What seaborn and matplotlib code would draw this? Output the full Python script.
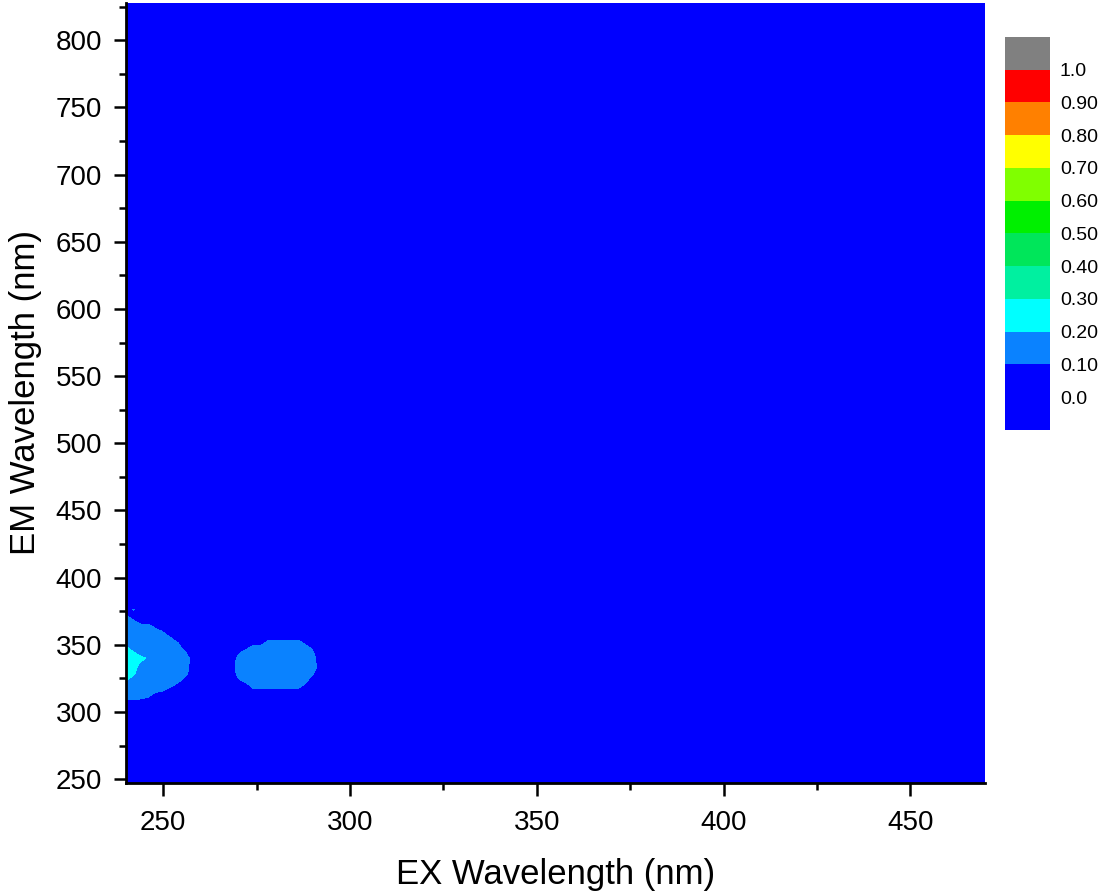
import numpy as np
import pandas as pd
import matplotlib
matplotlib.use("Agg")
import matplotlib.pyplot as plt
from matplotlib.ticker import MultipleLocator
import seaborn as sns

# ---------------- data ----------------
# Full measurement grid (nm)
ex_grid = np.arange(240, 472, 2)
em_grid = np.arange(244, 832, 4)

# Peak 1 (left edge), normalised intensity in hundredths
blob1_ex = [240, 242, 244, 246, 248, 250, 252, 254, 256, 258]
blob1_em = [304, 308, 312, 316, 320, 324, 328, 332, 336, 340, 344,
            348, 352, 356, 360, 364, 368, 372, 376, 380, 384, 388]
blob1 = [
    [0, 0, 0, 0, 0, 0, 0, 0, 0, 0],            # 304
    [8, 8, 6, 0, 0, 0, 0, 0, 0, 0],            # 308
    [15, 15, 15, 13, 0, 0, 0, 0, 0, 0],        # 312
    [15, 15, 15, 15, 15, 11, 0, 0, 0, 0],      # 316
    [17, 15, 15, 15, 15, 15, 15, 5, 0, 0],     # 320
    [21, 16, 15, 15, 15, 15, 15, 15, 5, 0],    # 324
    [23, 21, 16, 15, 15, 15, 15, 15, 12, 0],   # 328
    [25, 22, 17, 15, 15, 15, 15, 15, 17, 0],   # 332
    [26, 23, 19, 15, 15, 15, 15, 15, 18, 0],   # 336
    [27, 25, 22, 19, 15, 15, 15, 15, 19, 0],   # 340
    [24, 21, 16, 15, 15, 15, 15, 15, 11, 0],   # 344
    [21, 16, 15, 15, 15, 15, 15, 17, 0, 0],    # 348
    [15, 15, 15, 15, 15, 15, 15, 9, 0, 0],     # 352
    [15, 15, 15, 15, 15, 15, 9, 0, 0, 0],      # 356
    [15, 15, 15, 15, 15, 9, 0, 0, 0, 0],       # 360
    [15, 15, 15, 15, 5, 0, 0, 0, 0, 0],        # 364
    [12, 11, 0, 0, 0, 0, 0, 0, 0, 0],          # 368
    [11, 0, 0, 0, 0, 0, 0, 0, 0, 0],           # 372
    [0, 11, 0, 0, 0, 0, 0, 0, 0, 0],           # 376
    [0, 0, 0, 0, 0, 0, 0, 0, 0, 0],            # 380
    [11, 0, 0, 0, 0, 0, 0, 0, 0, 0],           # 384
    [0, 0, 0, 0, 0, 0, 0, 0, 0, 0],            # 388
]

# Peak 2 (EX ~280 nm), normalised intensity in hundredths
blob2_ex = [266, 268, 270, 272, 274, 276, 278, 280, 282, 284, 286, 288, 290, 292, 294]
blob2_em = [312, 316, 320, 324, 328, 332, 336, 340, 344, 348, 352, 356]
blob2 = [
    [0, 0, 0, 0, 0, 0, 0, 0, 0, 0, 0, 0, 0, 0, 0],              # 312
    [0, 0, 0, 0, 8, 8, 8, 8, 8, 8, 8, 0, 0, 0, 0],              # 316
    [0, 0, 0, 5, 15, 15, 15, 15, 15, 15, 15, 8, 0, 0, 0],       # 320
    [0, 0, 8, 15, 15, 15, 15, 15, 15, 15, 15, 17, 0, 0, 0],     # 324
    [0, 0, 13, 15, 15, 15, 15, 15, 15, 15, 15, 15, 11, 0, 0],   # 328
    [0, 0, 15, 15, 15, 15, 15, 15, 15, 15, 15, 15, 18, 0, 0],   # 332
    [0, 0, 15, 15, 15, 15, 15, 15, 15, 15, 15, 15, 18, 0, 0],   # 336
    [0, 0, 13, 15, 15, 15, 15, 15, 15, 15, 15, 15, 17, 0, 0],   # 340
    [0, 0, 8, 15, 15, 15, 15, 15, 15, 15, 15, 15, 12, 0, 0],    # 344
    [0, 0, 0, 5, 15, 15, 15, 15, 15, 15, 15, 15, 7, 0, 0],      # 348
    [0, 0, 0, 0, 0, 0, 13, 15, 16, 16, 15, 5, 0, 0, 0],         # 352
    [0, 0, 0, 0, 0, 0, 0, 0, 0, 0, 0, 0, 0, 0, 0],              # 356
]

level_values = [-0.1, 0.0, 0.1, 0.2, 0.3, 0.4, 0.5, 0.6, 0.7, 0.8, 0.9, 1.0, 1.1]
level_colors = ["#0000FF", "#0000FF", "#0A82FF", "#00FFFF", "#00F0A0",
                "#00E65A", "#00F000", "#80FF00", "#FFFF00", "#FF8000",
                "#FF0000", "#808080"]
cbar_ticks = [0.0, 0.1, 0.2, 0.3, 0.4, 0.5, 0.6, 0.7, 0.8, 0.9, 1.0]
cbar_labels = ["0.0", "0.10", "0.20", "0.30", "0.40", "0.50",
               "0.60", "0.70", "0.80", "0.90", "1.0"]
x_label = "EX Wavelength (nm)"
y_label = "EM Wavelength (nm)"

# ---------------- build field ----------------
field = pd.DataFrame(0.0, index=em_grid, columns=ex_grid)
field.loc[blob1_em, blob1_ex] = np.array(blob1, dtype=float) / 100.0
field.loc[blob2_em, blob2_ex] = np.array(blob2, dtype=float) / 100.0

# ---------------- plot ----------------
sns.set_theme(style="ticks")
plt.rcParams["font.family"] = ["Liberation Sans", "DejaVu Sans"]
plt.rcParams["text.color"] = "black"
plt.rcParams["axes.labelcolor"] = "black"
plt.rcParams["xtick.color"] = "black"
plt.rcParams["ytick.color"] = "black"

fig = plt.figure(figsize=(11, 8.92), dpi=100)
ax = fig.add_axes([0.1145, 0.122, 0.781, 0.875])

cs = ax.contourf(field.columns.values, field.index.values, field.values,
                 levels=level_values, colors=level_colors)

ax.set_xlim(240, 470)
ax.set_ylim(247, 828)
ax.xaxis.set_major_locator(MultipleLocator(50))
ax.xaxis.set_minor_locator(MultipleLocator(25))
ax.yaxis.set_major_locator(MultipleLocator(50))
ax.yaxis.set_minor_locator(MultipleLocator(25))

for side in ["top", "right"]:
    ax.spines[side].set_visible(False)
for side in ["left", "bottom"]:
    ax.spines[side].set_linewidth(2)
    ax.spines[side].set_color("black")

ax.tick_params(axis="x", which="major", direction="out", length=9, width=1.8,
               labelsize=20, pad=10, colors="black")
ax.tick_params(axis="y", which="major", direction="out", length=9, width=1.8,
               labelsize=20, pad=8, colors="black")
ax.tick_params(which="minor", direction="out", length=5, width=1.8, colors="black")

ax.set_xlabel(x_label, fontsize=25, labelpad=16, color="black")
ax.set_ylabel(y_label, fontsize=25, labelpad=10, color="black")

cax = fig.add_axes([0.9136, 0.518, 0.041, 0.4406])
cb = fig.colorbar(cs, cax=cax, ticks=cbar_ticks)
cb.ax.set_yticklabels(cbar_labels)
cb.outline.set_visible(False)
cb.ax.tick_params(length=0, labelsize=14, pad=7, colors="black")

fig.savefig("out.png", dpi=100)
